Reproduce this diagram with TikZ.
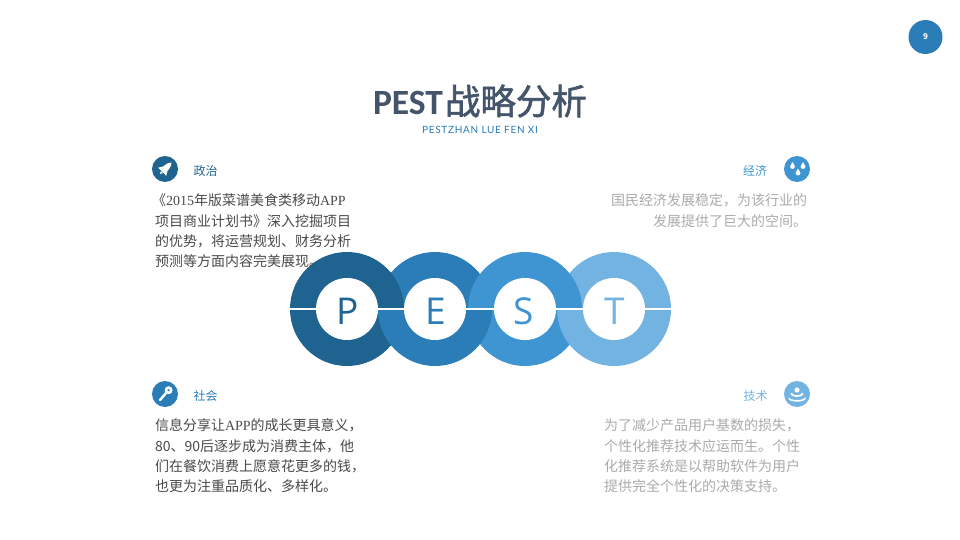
\documentclass[tikz,border=0pt]{standalone}
\usepackage{fontspec}
\setmainfont{Noto Sans CJK SC}
\newfontfamily\latinserif{Liberation Serif}
\newfontfamily\subfont[LetterSpace=7]{Lato}
\newfontfamily\ringfont{Open Sans}
\newfontfamily\titlelatin{Carlito}
\newfontfamily\titlecjk[FakeBold=1.6]{Noto Sans CJK SC}
\definecolor{cP}{HTML}{1F6391}
\definecolor{cE}{HTML}{2B7DB8}
\definecolor{cS}{HTML}{3F95D2}
\definecolor{cT}{HTML}{73B3E2}
\definecolor{titlec}{HTML}{44546A}
\definecolor{bodyc}{HTML}{4A4A4A}
\definecolor{greyc}{HTML}{ABABAB}
\tikzset{
  x=1pt,y=-1pt,
  para/.style={inner sep=0pt,outer sep=0pt,font=\fontsize{14}{20.3}\selectfont},
  parleft/.style={para,anchor=north west,align=left},
  parright/.style={para,anchor=north east,align=right},
  head/.style={inner sep=0pt,font=\fontsize{12}{14}\selectfont},
  badge/.style={circle,minimum size=26pt,inner sep=0pt},
  hole/.style={circle,fill=white,minimum size=62pt,inner sep=0pt},
  letter/.style={inner sep=0pt,font=\ringfont\fontsize{37}{40}\selectfont},
}
\newcommand{\upperhalf}[2]{\fill[#2] (#1-57,309) arc[start angle=180,end angle=0,radius=57pt] -- cycle;}
\newcommand{\lowerhalf}[2]{\fill[#2] (#1-57,309) arc[start angle=180,end angle=360,radius=57pt] -- cycle;}
\newcommand{\drop}[2]{\fill[white] (#1,#2-3.8) .. controls (#1+1,#2-1.8) and (#1+2.4,#2-0.8) .. (#1+2.4,#2+0.7) .. controls (#1+2.4,#2+3.6) and (#1-2.4,#2+3.6) .. (#1-2.4,#2+0.7) .. controls (#1-2.4,#2-0.8) and (#1-1,#2-1.8) .. (#1,#2-3.8) -- cycle;}
\begin{document}
\begin{tikzpicture}
\useasboundingbox (0,0) rectangle (960,540);
\fill[white] (0,0) rectangle (960,540);

% page number
\node[circle,fill=cE,minimum size=34pt,inner sep=0pt,text=white,font=\fontsize{8}{10}\selectfont\bfseries] (page) at (925.5,37) {9};

% title
\node[inner sep=0pt,text=titlec,font=\fontsize{35.5}{40}\selectfont] (title) at (480,101) {{\titlelatin\bfseries PEST}\hspace{2pt}{\titlecjk 战略分析}};
\node[inner sep=0pt,text=cE,font=\subfont\fontsize{10}{12}\selectfont] (subtitle) at (480,130) {PESTZHAN LUE FEN XI};

% rings: upper halves then lower halves, so that they interlock
\upperhalf{435}{cE}
\upperhalf{614}{cT}
\upperhalf{347}{cP}
\upperhalf{525}{cS}
\lowerhalf{347}{cP}
\lowerhalf{525}{cS}
\lowerhalf{435}{cE}
\lowerhalf{614}{cT}
\fill[white] (290,308) rectangle (671.5,310);
\node[hole] (hP) at (347,309) {};
\node[hole] (hE) at (435,309) {};
\node[hole] (hS) at (525,309) {};
\node[hole] (hT) at (614,309) {};
\node[letter,text=cP] (lP) at (348,311) {P};
\node[letter,text=cE] (lE) at (435.5,311) {E};
\node[letter,text=cS] (lS) at (524,311) {S};
\node[letter,text=cT] (lT) at (615,311) {T};

% badges
\node[badge,fill=cP] (b1) at (165,169) {};
\node[badge,fill=cE] (b2) at (165,394) {};
\node[badge,fill=cS] (b3) at (797,169) {};
\node[badge,fill=cT] (b4) at (797,394) {};

% rocket
\begin{scope}[shift={(165.5,168.5)},rotate=-45]
\fill[white] (-3,4.5) -- (-3,-1.5) .. controls (-3,-4.5) and (-1,-7.5) .. (0,-8.5) .. controls (1,-7.5) and (3,-4.5) .. (3,-1.5) -- (3,4.5) -- cycle;
\fill[white] (-3,0) -- (-5.8,4.8) -- (-2.5,4.5) -- cycle;
\fill[white] (3,0) -- (5.8,4.8) -- (2.5,4.5) -- cycle;
\fill[white] (-1.4,5) -- (1.4,5) -- (0,8) -- cycle;
\end{scope}

% key
\draw[white,line width=2.6pt] (168.6,390.2) circle[radius=2.6pt];
\draw[white,line width=2.4pt,line cap=round] (166.6,392.4) -- (160,400);

% drops
\drop{792.5}{166}
\drop{803}{166}
\drop{798}{172.5}

% cone
\fill[white] (797,390) circle[radius=2.6pt];
\draw[white,line width=1.8pt] (791,393.3) .. controls (792,397) and (802,397) .. (803,393.3);
\fill[white] (788.5,397) .. controls (790,401) and (804,401) .. (805.5,397) -- (805.5,399) .. controls (804,402.5) and (790,402.5) .. (788.5,399) -- cycle;

% headings
\node[head,text=cP] (h1) at (205.5,171) {政治};
\node[head,text=cE] (h2) at (205.5,396) {社会};
\node[head,text=cS] (h3) at (755,171) {经济};
\node[head,text=cT] (h4) at (755.5,396) {技术};

% paragraphs
\node[parleft,text=bodyc] (p1) at (155,194) {\hspace{-3pt}《{\latinserif 2015}年版菜谱美食类移动{\latinserif APP}\\项目商业计划书》深入挖掘项目\\的优势，将运营规划、财务分析\\预测等方面内容完美展现。};
\node[parright,text=greyc] (p2) at (807,194) {国民经济发展稳定，为该行业的\\发展提供了巨大的空间。};
\node[parleft,text=bodyc] (p3) at (155,419) {信息分享让{\latinserif APP}的成长更具意义，\\80、90后逐步成为消费主体，他\\们在餐饮消费上愿意花更多的钱，\\也更为注重品质化、多样化。};
\node[parleft,text=greyc] (p4) at (604,419) {为了减少产品用户基数的损失，\\个性化推荐技术应运而生。个性\\化推荐系统是以帮助软件为用户\\提供完全个性化的决策支持。};
\end{tikzpicture}
\end{document}
